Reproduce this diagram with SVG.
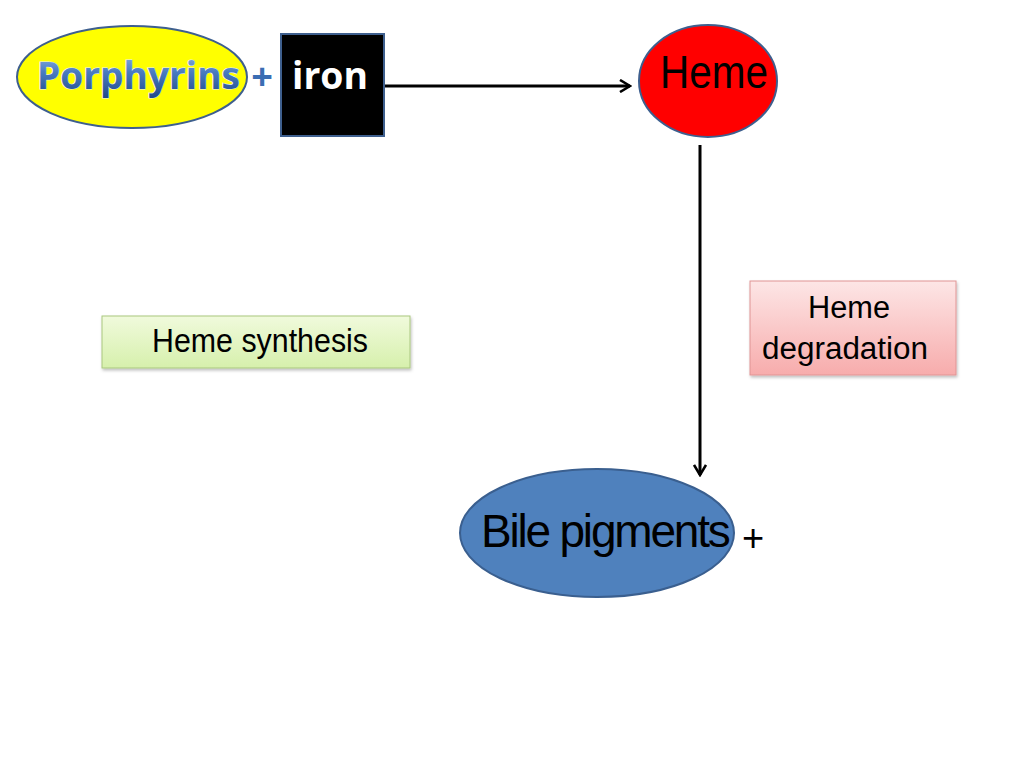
<svg xmlns="http://www.w3.org/2000/svg" width="1024" height="768" viewBox="0 0 1024 768">
<style>
.lbl{font-family:"Liberation Sans",Arial,sans-serif;fill:#000}
.cal{font-family:"Open Sans",Lato,sans-serif;font-weight:700}
.conn{stroke:#000;stroke-width:3;fill:none}
</style>
<defs>
<linearGradient id="blueText" x1="0" y1="0" x2="0" y2="1">
<stop offset="0" stop-color="#9dbde8"/>
<stop offset="0.45" stop-color="#4a7cc0"/>
<stop offset="1" stop-color="#1c4585"/>
</linearGradient>
<linearGradient id="green" x1="0" y1="0" x2="0" y2="1">
<stop offset="0" stop-color="#f0fadc"/>
<stop offset="1" stop-color="#d6f0ac"/>
</linearGradient>
<linearGradient id="pink" x1="0" y1="0" x2="0" y2="1">
<stop offset="0" stop-color="#fde6e6"/>
<stop offset="1" stop-color="#f7acac"/>
</linearGradient>
<filter id="sh" x="-5%" y="-10%" width="115%" height="130%">
<feDropShadow dx="1" dy="2" stdDeviation="1.5" flood-color="#000" flood-opacity="0.25"/>
</filter>
<marker id="chev" viewBox="0 0 14 14" refX="12" refY="7" markerWidth="14" markerHeight="14" markerUnits="userSpaceOnUse" orient="auto">
<path d="M2,1 L12,7 L2,13" fill="none" stroke="#000" stroke-width="2.6"/>
</marker>
</defs>

<g id="connectors">
<line class="conn" x1="385" y1="86" x2="630" y2="86" marker-end="url(#chev)"/>
<line class="conn" x1="700" y1="145" x2="700" y2="475" marker-end="url(#chev)"/>
</g>

<g id="porphyrins">
<ellipse cx="132" cy="77" rx="115" ry="51" fill="#ffff00" stroke="#3e5f8e" stroke-width="2"/>
<text class="cal" x="37" y="89" font-size="37" textLength="203" lengthAdjust="spacingAndGlyphs" fill="url(#blueText)" stroke="#e8eef8" stroke-width="1.2" paint-order="stroke">Porphyrins</text>
</g>

<g id="plus1">
<text class="cal" x="262" y="90" font-size="38" text-anchor="middle" fill="#3b6db3">+</text>
</g>

<g id="iron">
<rect x="281" y="34" width="103" height="102" fill="#000" stroke="#3e5f8e" stroke-width="2"/>
<text class="cal" x="292" y="89" font-size="37" textLength="76" lengthAdjust="spacingAndGlyphs" fill="#fff">iron</text>
</g>

<g id="heme">
<ellipse cx="708" cy="81" rx="69" ry="56" fill="#ff0000" stroke="#3e5f8e" stroke-width="2"/>
<text class="lbl" x="660" y="88" font-size="47" textLength="108" lengthAdjust="spacingAndGlyphs">Heme</text>
</g>

<g id="heme-synthesis">
<rect x="102" y="316" width="308" height="52" fill="url(#green)" stroke="#a9c77f" stroke-width="1" filter="url(#sh)"/>
<text class="lbl" x="152" y="352" font-size="34" textLength="216" lengthAdjust="spacingAndGlyphs">Heme synthesis</text>
</g>

<g id="heme-degradation">
<rect x="750" y="281" width="206" height="94" fill="url(#pink)" stroke="#e09494" stroke-width="1" filter="url(#sh)"/>
<text class="lbl" x="849" y="318" font-size="31" text-anchor="middle" textLength="82" lengthAdjust="spacingAndGlyphs">Heme</text>
<text class="lbl" x="762" y="359" font-size="31" textLength="166" lengthAdjust="spacingAndGlyphs">degradation</text>
</g>

<g id="bile-pigments">
<ellipse cx="597" cy="533" rx="137" ry="64" fill="#4f81bd" stroke="#3a5f8f" stroke-width="2"/>
<text class="lbl" x="481" y="547" font-size="46" letter-spacing="-2.2">Bile pigments</text>
</g>

<g id="plus2">
<text class="lbl" x="753" y="551" font-size="38" text-anchor="middle">+</text>
</g>
</svg>
